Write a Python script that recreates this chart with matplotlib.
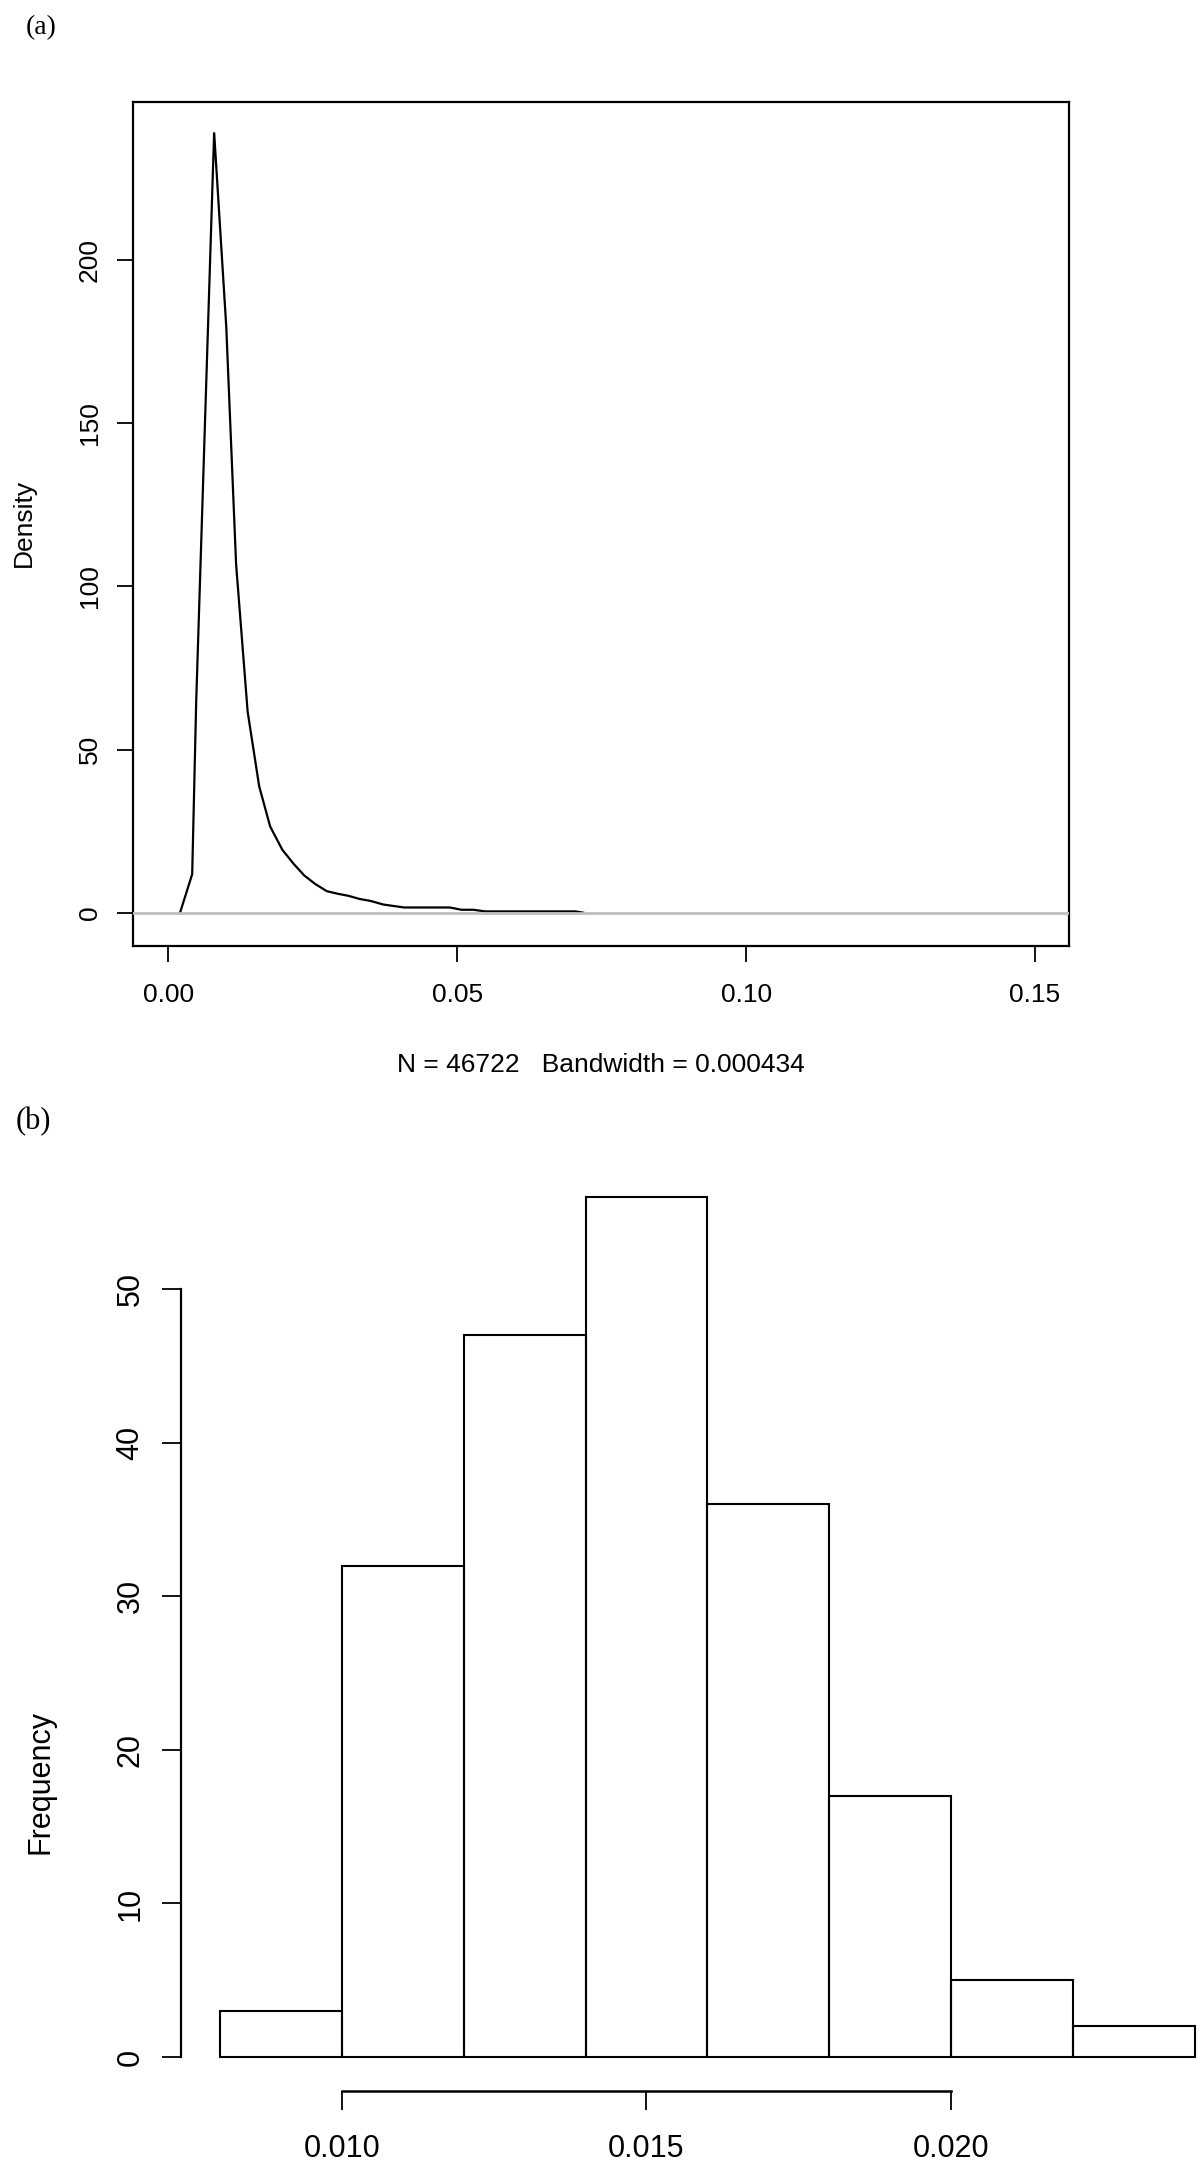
import numpy as np
import matplotlib
matplotlib.use("Agg")
import matplotlib.pyplot as plt

# ---------------- data ----------------
# (a) kernel density estimate (visible part of the curve; beyond it the curve lies on the zero line)
density_x = [0.0020, 0.0041, 0.0048, 0.0079, 0.0100, 0.0117, 0.0137, 0.0157,
             0.0176, 0.0197, 0.0216, 0.0235, 0.0254, 0.0274, 0.0293, 0.0311, 0.0331,
             0.0350, 0.0372, 0.0408, 0.0487, 0.0507, 0.0528, 0.0548, 0.0704, 0.0718]
density_y = [0.0, 11.8, 65.0, 239.1, 179.5, 106.8, 61.6, 38.7,
             26.4, 19.3, 15.1, 11.4, 8.8, 6.6, 5.8, 5.2, 4.2,
             3.6, 2.5, 1.6, 1.6, 0.9, 0.9, 0.4, 0.4, 0.0]
density_xticks = [0.00, 0.05, 0.10, 0.15]
density_xticklabels = ["0.00", "0.05", "0.10", "0.15"]
density_yticks = [0, 50, 100, 150, 200]
density_n = 46722
density_bw = 0.000434

# (b) histogram
hist_edges = [0.008, 0.010, 0.012, 0.014, 0.016, 0.018, 0.020, 0.022, 0.024]
hist_counts = [3, 32, 47, 56, 36, 17, 5, 2]
hist_xticks = [0.010, 0.015, 0.020]
hist_xticklabels = ["0.010", "0.015", "0.020"]
hist_yticks = [0, 10, 20, 30, 40, 50]

SANS = ["Liberation Sans", "DejaVu Sans"]
SERIF = ["Liberation Serif", "DejaVu Serif"]
plt.rcParams["font.family"] = SANS

W, H = 1200, 2181
fig = plt.figure(figsize=(W / 100, H / 100), dpi=100)


def px_axes(left, top, right, bottom):
    return fig.add_axes([left / W, 1 - bottom / H, (right - left) / W, (bottom - top) / H])


# ---------------- panel (a) ----------------
ax1 = px_axes(133.3, 101.7, 1069.0, 945.7)
ax1.plot(density_x, density_y, color="black", lw=1.6, solid_joinstyle="miter")
ax1.axhline(0, color="#bebebe", lw=2.0, zorder=3)
ax1.set_xlim(-0.006093, 0.15588)
ax1.set_ylim(-10.11, 248.5)
for s in ax1.spines.values():
    s.set_linewidth(1.6)
ax1.set_xticks(density_xticks)
ax1.set_xticklabels(density_xticklabels)
ax1.set_yticks(density_yticks)
ax1.set_yticklabels([str(v) for v in density_yticks])
ax1.tick_params(axis="both", direction="out", length=11.5, width=1.3, labelsize=19)
ax1.tick_params(axis="x", pad=15)
ax1.tick_params(axis="y", pad=11, labelrotation=90)
for lbl in ax1.get_yticklabels():
    lbl.set_va("center")
fig.text(24 / W, 1 - 523 / H, "Density", rotation=90, ha="center", va="center", fontsize=19)
fig.text(601 / W, 1 - 1065 / H,
         f"N = {density_n}   Bandwidth = {density_bw:.6f}",
         ha="center", va="center", fontsize=19)
fig.text(26 / W, 1 - 27.5 / H, "(a)", ha="left", va="center", fontsize=20, family=SERIF)

# ---------------- panel (b) ----------------
ax2 = px_axes(180.8, 1162.8, 1234.0, 2091.4)
ax2.bar(hist_edges[:-1], hist_counts, width=np.diff(hist_edges), align="edge",
        fill=False, edgecolor="black", lw=1.5)
ax2.set_xlim(0.00736, 0.02464)
ax2.set_ylim(-2.24, 58.24)
for side in ["top", "right"]:
    ax2.spines[side].set_visible(False)
ax2.spines["left"].set_bounds(hist_yticks[0], hist_yticks[-1])
ax2.spines["bottom"].set_bounds(hist_xticks[0], hist_xticks[-1])
ax2.spines["left"].set_linewidth(1.6)
ax2.spines["bottom"].set_linewidth(1.8)
ax2.set_xticks(hist_xticks)
ax2.set_xticklabels(hist_xticklabels)
ax2.set_yticks(hist_yticks)
ax2.set_yticklabels([str(v) for v in hist_yticks])
ax2.tick_params(axis="both", direction="out", length=13.5, width=1.3, labelsize=22)
ax2.tick_params(axis="x", pad=17)
ax2.tick_params(axis="y", pad=12, labelrotation=90)
for lbl in ax2.get_yticklabels():
    lbl.set_va("center")
fig.text(41 / W, 1 - 1782 / H, "Frequency", rotation=90, ha="center", va="center", fontsize=22)
fig.text(16 / W, 1 - 1122 / H, "(b)", ha="left", va="center", fontsize=22, family=SERIF)

fig.savefig("out.png", dpi=100, facecolor="white")
